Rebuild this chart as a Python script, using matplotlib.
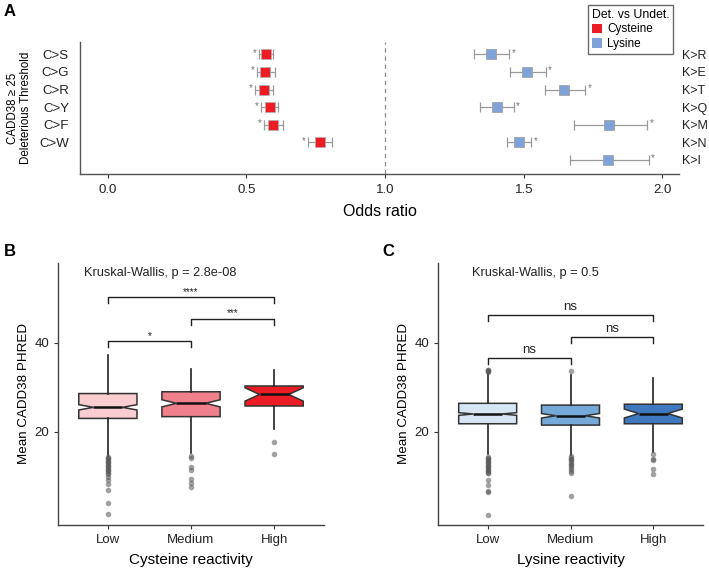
import matplotlib
matplotlib.use("Agg")
import matplotlib.pyplot as plt
from matplotlib.patches import Patch

plt.rcParams['font.family'] = ['Liberation Sans', 'DejaVu Sans']

# ---- panel A: odds ratios (detected vs undetected) ----
cys_labels = ["C>S", "C>G", "C>R", "C>Y", "C>F", "C>W"]
cys_or = [0.570, 0.567, 0.563, 0.584, 0.596, 0.765]
cys_lo = [0.545, 0.538, 0.531, 0.552, 0.563, 0.722]
cys_hi = [0.596, 0.603, 0.596, 0.614, 0.631, 0.809]

lys_labels = ["K>R", "K>E", "K>T", "K>Q", "K>M", "K>N", "K>I"]
lys_or = [1.383, 1.513, 1.645, 1.403, 1.807, 1.482, 1.804]
lys_lo = [1.322, 1.449, 1.575, 1.344, 1.681, 1.438, 1.668]
lys_hi = [1.448, 1.581, 1.722, 1.465, 1.946, 1.528, 1.952]

# ---- panels B/C: box stats of mean CADD38 PHRED ----
groups = ["Low", "Medium", "High"]

cys_q1 = [23.0, 23.4, 25.8]
cys_med = [25.5, 26.4, 28.4]
cys_q3 = [28.6, 29.0, 30.3]
cys_wlo = [14.6, 15.2, 20.7]
cys_whi = [37.2, 34.2, 33.9]
cys_notch = [0.6, 0.8, 1.5]
cys_fliers = [
    [14.4, 14.1, 13.8, 13.5, 13.2, 12.9, 12.6, 12.3, 12.0, 11.7, 11.4, 11.1,
     10.8, 10.5, 9.8, 9.2, 8.2, 6.9, 3.9, 1.5],
    [14.5, 14.0, 12.1, 11.4, 9.3, 8.5, 7.5],
    [17.8, 15.1],
]

lys_q1 = [21.8, 21.5, 21.8]
lys_med = [24.0, 23.6, 24.1]
lys_q3 = [26.4, 26.0, 26.2]
lys_wlo = [14.9, 14.8, 15.5]
lys_whi = [33.2, 32.7, 32.0]
lys_notch = [0.3, 0.5, 1.0]
lys_fliers = [
    [34.0, 33.8, 33.6, 33.4, 14.4, 14.1, 13.8, 13.5, 13.2, 12.9, 12.6, 12.3,
     12.0, 11.7, 11.4, 11.1, 10.8, 10.6, 9.1, 8.0, 6.6, 6.4, 1.2],
    [33.7, 14.5, 14.2, 13.9, 13.6, 13.2, 12.8, 12.4, 12.0, 11.6, 11.2, 10.6, 5.5],
    [15.1, 13.8, 13.6, 11.7, 10.5],
]

cys_kw = "Kruskal-Wallis, p = 2.8e-08"
lys_kw = "Kruskal-Wallis, p = 0.5"
# brackets: (left group, right group, height, label)
cys_brackets = [(1, 2, 40.4, "*"), (2, 3, 45.5, "***"), (1, 3, 50.3, "****")]
lys_brackets = [(1, 2, 36.6, "ns"), (2, 3, 41.3, "ns"), (1, 3, 46.4, "ns")]

red = "#EC1C24"
blue = "#7FA2D9"
cys_colors = ["#F9CDD1", "#F0808C", "#EC1C24"]
lys_colors = ["#D6E6F5", "#74A9DA", "#3E78BF"]
axis_col = "#333333"

W, H = 709, 570
fig = plt.figure(figsize=(W / 100, H / 100), dpi=100)


def px_axes(l, t, r, b):
    return fig.add_axes([l / W, 1 - b / H, (r - l) / W, (b - t) / H])


# ================= panel A =================
axA = px_axes(80, 42, 679, 174)
cy = list(range(1, len(cys_labels) + 1))
ky = list(range(1, len(lys_labels) + 1))

axA.axvline(1.0, color="#8a8a8a", ls=(0, (3.5, 3)), lw=0.9, zorder=1)
axA.errorbar(cys_or, cy, xerr=[[o - l for o, l in zip(cys_or, cys_lo)],
                               [h - o for o, h in zip(cys_or, cys_hi)]],
             fmt="none", ecolor="#9a9a9a", elinewidth=0.9, capsize=3.3,
             capthick=0.9, zorder=2)
axA.errorbar(lys_or, ky, xerr=[[o - l for o, l in zip(lys_or, lys_lo)],
                               [h - o for o, h in zip(lys_or, lys_hi)]],
             fmt="none", ecolor="#9a9a9a", elinewidth=0.9, capsize=3.3,
             capthick=0.9, zorder=2)
axA.scatter(cys_or, cy, marker="s", s=52, color=red, edgecolor="#b0b0b0",
            linewidth=0.5, zorder=3)
axA.scatter(lys_or, ky, marker="s", s=52, color=blue, edgecolor="#9a9a9a",
            linewidth=0.5, zorder=3)
for lo, y in zip(cys_lo, cy):
    axA.annotate("*", (lo, y), xytext=(-1.5, 1), textcoords="offset points",
                 ha="right", va="center", fontsize=7, color="#777777")
for hi, y in zip(lys_hi, ky):
    axA.annotate("*", (hi, y), xytext=(1.5, 1), textcoords="offset points",
                 ha="left", va="center", fontsize=7, color="#777777")

axA.set_xlim(-0.1, 2.06)
axA.set_ylim(7.8, 0.3)
axA.set_xticks([0.0, 0.5, 1.0, 1.5, 2.0])
axA.set_xticklabels(["0.0", "0.5", "1.0", "1.5", "2.0"])
axA.set_yticks(cy)
axA.set_yticklabels(cys_labels)
axA.tick_params(axis="y", length=0, pad=8, labelsize=9.5, colors="#222222")
axA.tick_params(axis="x", length=3, pad=4, labelsize=9.5, colors=axis_col,
                labelcolor="#222222")
for s in ["top", "right"]:
    axA.spines[s].set_visible(False)
for s in ["left", "bottom"]:
    axA.spines[s].set_color("#555555")
    axA.spines[s].set_linewidth(1)
axA.set_xlabel("Odds ratio", fontsize=11.5, labelpad=6)
axA.set_ylabel("CADD38 \u2265 25\nDeleterious Threshold", fontsize=8.3,
               labelpad=5, linespacing=1.15)

axA2 = axA.twinx()
axA2.set_ylim(7.8, 0.3)
axA2.set_yticks(ky)
axA2.set_yticklabels(lys_labels)
axA2.tick_params(axis="y", length=0, pad=2, labelsize=9, colors="#222222")
for s in axA2.spines.values():
    s.set_visible(False)

leg = axA.legend(handles=[Patch(facecolor=red, edgecolor="none", label="Cysteine"),
                          Patch(facecolor=blue, edgecolor="none", label="Lysine")],
                 title="Det. vs Undet.", loc="upper right",
                 bbox_to_anchor=(673 / W, 1 - 5 / H), bbox_transform=fig.transFigure,
                 fontsize=8.5, title_fontsize=8.8, frameon=True, fancybox=False,
                 handlelength=0.9, handleheight=0.9, handletextpad=0.4,
                 borderpad=0.3, labelspacing=0.25, alignment="left",
                 borderaxespad=0)
leg.get_frame().set_edgecolor("#444444")
leg.get_frame().set_linewidth(1)

fig.text(4 / W, 1 - 11 / H, "A", fontsize=12, fontweight="bold", va="center")


# ================= panels B and C =================
def box_panel(ax, q1, med, q3, wlo, whi, notch, fliers, colors, kw, kw_x,
              brackets, xlabel):
    stats = []
    for i in range(len(groups)):
        stats.append(dict(med=med[i], q1=q1[i], q3=q3[i], whislo=wlo[i],
                          whishi=whi[i], cilo=med[i] - notch[i],
                          cihi=med[i] + notch[i], fliers=fliers[i]))
    bp = ax.bxp(stats, positions=[1, 2, 3], widths=0.7, shownotches=True,
                patch_artist=True, showcaps=False,
                boxprops=dict(edgecolor="#333333", linewidth=1.1),
                whiskerprops=dict(color="#222222", linewidth=1.2),
                medianprops=dict(color="#111111", linewidth=1.8),
                flierprops=dict(marker="o", markersize=4, markerfacecolor="#555555",
                                markeredgecolor="none", alpha=0.55))
    for patch, c in zip(bp["boxes"], colors):
        patch.set_facecolor(c)
    for (a, b, h, lab) in brackets:
        ax.plot([a, a, b, b], [h - 1.4, h, h, h - 1.4], color="#222222", lw=1)
        if lab == "ns":
            ax.text((a + b) / 2, h + 0.4, lab, ha="center", va="bottom",
                    fontsize=9.5, color="#222222")
        else:
            ax.text((a + b) / 2, h + 0.1, lab, ha="center", va="bottom",
                    fontsize=7, color="#222222")
    ax.text(kw_x, 55.8, kw, ha="left", va="center", fontsize=9.2, color="#222222")
    ax.set_xlim(0.4, 3.6)
    ax.set_ylim(-1, 58)
    ax.set_yticks([20, 40])
    ax.set_xticks([1, 2, 3])
    ax.set_xticklabels(groups)
    ax.tick_params(length=3, labelsize=9.5, colors=axis_col, labelcolor="#222222")
    for s in ["top", "right"]:
        ax.spines[s].set_visible(False)
    for s in ["left", "bottom"]:
        ax.spines[s].set_color("#444444")
        ax.spines[s].set_linewidth(1)
    ax.set_xlabel(xlabel, fontsize=11, labelpad=5)
    ax.set_ylabel("Mean CADD38 PHRED", fontsize=9.6, labelpad=3)


axB = px_axes(58, 263, 324, 525)
box_panel(axB, cys_q1, cys_med, cys_q3, cys_wlo, cys_whi, cys_notch, cys_fliers,
          cys_colors, cys_kw, 0.71, cys_brackets, "Cysteine reactivity")
axC = px_axes(438, 263, 703, 525)
box_panel(axC, lys_q1, lys_med, lys_q3, lys_wlo, lys_whi, lys_notch, lys_fliers,
          lys_colors, lys_kw, 0.81, lys_brackets, "Lysine reactivity")

fig.text(4 / W, 1 - 251 / H, "B", fontsize=12, fontweight="bold", va="center")
fig.text(382 / W, 1 - 251 / H, "C", fontsize=12, fontweight="bold", va="center")

fig.savefig("out.png", dpi=100)
